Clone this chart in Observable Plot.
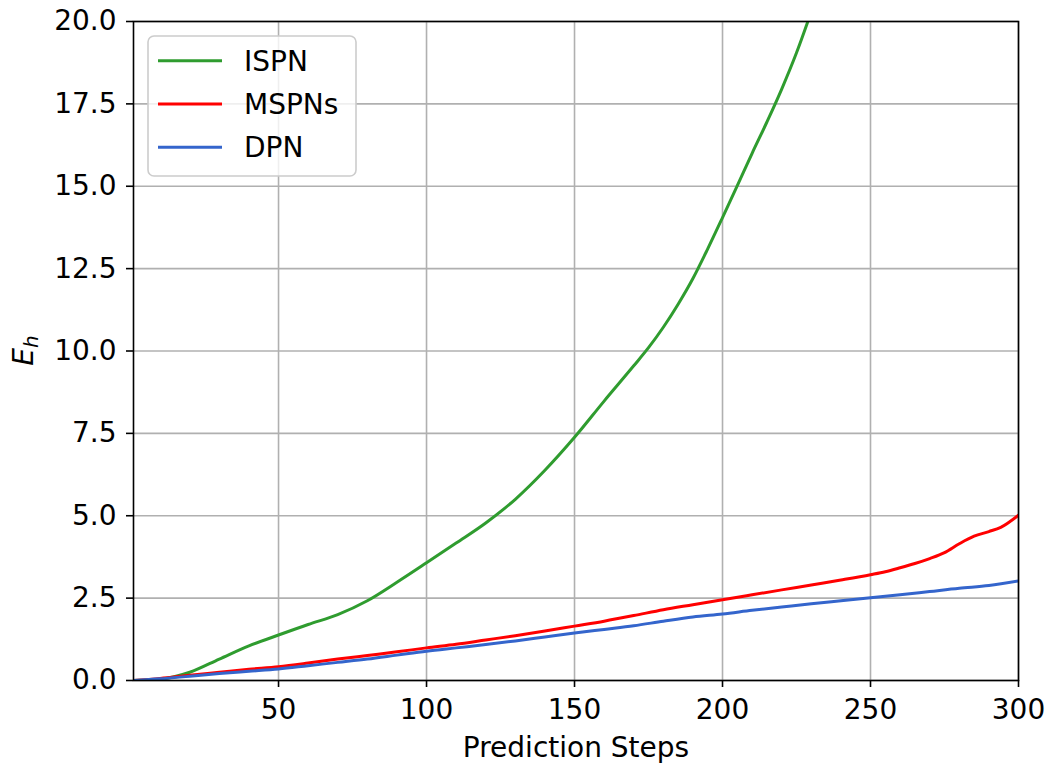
<!DOCTYPE html>
<html>
<head>
<meta charset="utf-8">
<script src="https://cdn.jsdelivr.net/npm/d3@7"></script>
<script src="https://cdn.jsdelivr.net/npm/@observablehq/plot@0.6"></script>
<style>
  body { margin: 0; background: #fff; }
  #chart { width: 1050px; height: 764px; }
</style>
</head>
<body>
<div id="chart"></div>
<script>
// Series names and colours
const seriesNames = ["ISPN", "MSPNs", "DPN"];
const seriesColors = ["#2f9c2f", "#ff0000", "#3465cc"];

// ISPN error vs. prediction step
const ispnSteps = [1, 10, 20, 30, 40, 50, 60, 70, 80, 90, 100, 110, 120, 130, 140, 150, 160, 170, 175, 180, 185, 190, 195, 200, 205, 210, 215, 220, 225, 230];
const ispnValues = [0, 0.04, 0.25, 0.65, 1.05, 1.38, 1.7, 2.0, 2.42, 2.98, 3.57, 4.17, 4.78, 5.5, 6.38, 7.38, 8.48, 9.55, 10.1, 10.72, 11.42, 12.2, 13.1, 14.05, 15.02, 16.0, 16.95, 17.95, 19.05, 20.3];

// MSPNs error vs. prediction step
const mspnSteps = [1, 10, 20, 30, 40, 50, 60, 70, 80, 90, 100, 110, 120, 130, 140, 150, 160, 170, 180, 190, 200, 210, 220, 230, 240, 250, 255, 260, 265, 270, 275, 280, 285, 290, 294, 300];
const mspnValues = [0, 0.06, 0.16, 0.25, 0.34, 0.42, 0.53, 0.65, 0.76, 0.87, 0.99, 1.1, 1.23, 1.36, 1.5, 1.65, 1.8, 1.97, 2.15, 2.3, 2.45, 2.6, 2.75, 2.9, 3.05, 3.21, 3.3, 3.42, 3.55, 3.7, 3.88, 4.15, 4.38, 4.52, 4.65, 5.02];

// DPN error vs. prediction step
const dpnSteps = [1, 10, 20, 30, 40, 50, 60, 70, 80, 90, 100, 110, 120, 130, 140, 150, 160, 170, 180, 190, 200, 210, 220, 230, 240, 250, 260, 270, 280, 290, 300];
const dpnValues = [0, 0.05, 0.13, 0.21, 0.28, 0.35, 0.45, 0.55, 0.65, 0.77, 0.89, 0.99, 1.09, 1.2, 1.32, 1.44, 1.55, 1.66, 1.8, 1.93, 2.02, 2.13, 2.23, 2.33, 2.42, 2.51, 2.6, 2.7, 2.8, 2.88, 3.02];

// Axis ticks
const xTicks = [50, 100, 150, 200, 250, 300];
const yTicks = [0, 2.5, 5, 7.5, 10, 12.5, 15, 17.5, 20];

const rows = [
  ...ispnSteps.map((s, i) => ({step: s, value: ispnValues[i], series: "ISPN"})),
  ...mspnSteps.map((s, i) => ({step: s, value: mspnValues[i], series: "MSPNs"})),
  ...dpnSteps.map((s, i) => ({step: s, value: dpnValues[i], series: "DPN"}))
];

const font = "'DejaVu Sans', sans-serif";

const chart = Plot.plot({
  width: 1050,
  height: 764,
  marginLeft: 133,
  marginRight: 32,
  marginTop: 21,
  marginBottom: 84,
  style: {fontFamily: font, fontSize: "28px", background: "#fff", color: "#000", overflow: "visible"},
  x: {domain: [1, 300]},
  y: {domain: [0, 20]},
  color: {domain: seriesNames, range: seriesColors},
  marks: [
    Plot.gridX(xTicks, {stroke: "#b0b0b0", strokeOpacity: 1, strokeWidth: 1.6}),
    Plot.gridY(yTicks, {stroke: "#b0b0b0", strokeOpacity: 1, strokeWidth: 1.6}),
    Plot.line(rows, {x: "step", y: "value", z: "series", stroke: "series", strokeWidth: 3, curve: "monotone-x", clip: true}),
    Plot.frame({stroke: "#000", strokeWidth: 1.6}),
    Plot.axisX(xTicks, {tickSize: 7, tickPadding: 12, strokeWidth: 1.6, label: null}),
    Plot.axisY(yTicks, {tickSize: 7, tickPadding: 10, strokeWidth: 1.6, tickFormat: d => d.toFixed(1), label: null}),
    Plot.text(["Prediction Steps"], {text: d => d, frameAnchor: "bottom", dy: 68, lineAnchor: "middle", fontSize: 28})
  ]
});

document.getElementById("chart").append(chart);

const svg = d3.select(chart);

// y-axis label: italic E with subscript h
const ylab = svg.append("text")
  .attr("transform", "translate(33,350.5) rotate(-90)")
  .attr("text-anchor", "middle")
  .attr("font-family", font)
  .attr("font-size", 28)
  .attr("font-style", "italic")
  .attr("fill", "#000");
ylab.append("tspan").text("E");
ylab.append("tspan").attr("font-size", 20).attr("dy", 5).text("h");

// legend box in the upper-left corner
const legend = svg.append("g").attr("text-anchor", "start");
legend.append("rect")
  .attr("x", 148).attr("y", 36).attr("width", 208).attr("height", 140)
  .attr("rx", 6).attr("ry", 6)
  .attr("fill", "#fff").attr("fill-opacity", 0.8)
  .attr("stroke", "#cccccc").attr("stroke-width", 1.6);
seriesNames.forEach((name, i) => {
  const y = 60.7 + i * 43.3;
  legend.append("line")
    .attr("x1", 158).attr("x2", 222).attr("y1", y).attr("y2", y)
    .attr("stroke", seriesColors[i]).attr("stroke-width", 3);
  legend.append("text")
    .attr("x", 244).attr("y", y + 10)
    .attr("text-anchor", "start")
    .attr("font-family", font).attr("font-size", 28).attr("fill", "#000")
    .text(name);
});
</script>
</body>
</html>
